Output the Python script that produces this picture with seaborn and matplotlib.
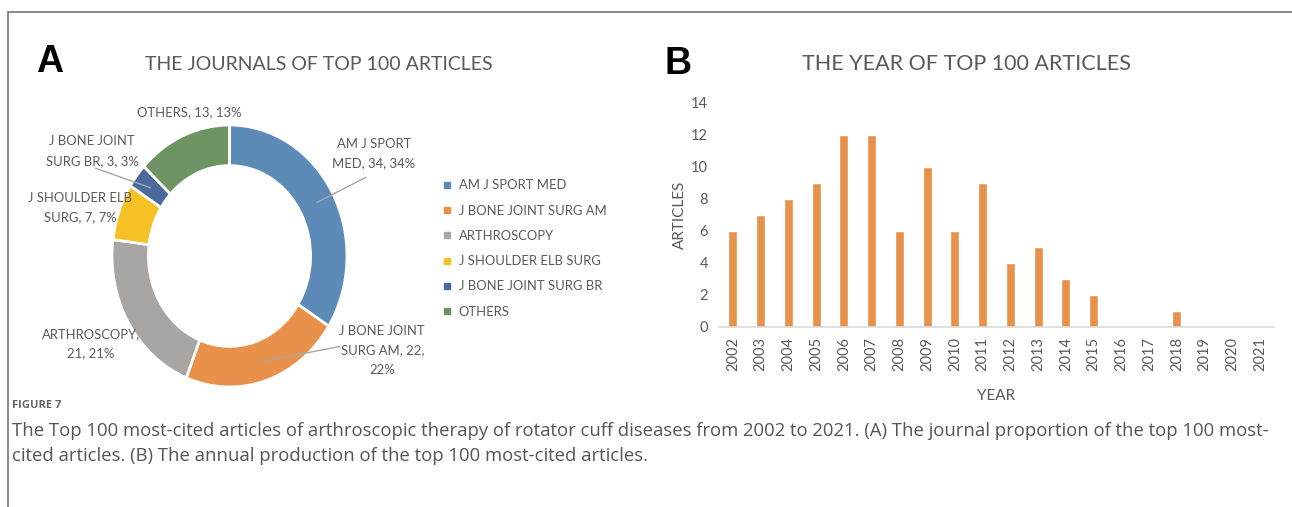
import numpy as np
import pandas as pd
import seaborn as sns
import matplotlib.pyplot as plt
from matplotlib.lines import Line2D

sns.set_theme(style="white")
plt.rcParams['font.family'] = ['Lato', 'DejaVu Sans']

# panel A data
journals = ["AM J SPORT MED", "J BONE JOINT SURG AM", "ARTHROSCOPY",
            "J SHOULDER ELB SURG", "J BONE JOINT SURG BR", "OTHERS"]
journal_counts = [34, 22, 21, 7, 3, 13]
journal_colors = ["#5C8BB8", "#E9914A", "#A9A5A3", "#F6C125", "#4A6A9C", "#6E9463"]

# panel B data
years = [str(y) for y in range(2002, 2022)]
year_counts = [6, 7, 8, 9, 12, 12, 6, 10, 6, 9, 4, 5, 3, 2, 0, 0, 1, 0, 0, 0]
bar_color = "#E8914A"

text_gray = "#595959"

W, H = 1292, 507
fig = plt.figure(figsize=(W / 100, H / 100), dpi=100)

# frame lines
fig.add_artist(Line2D([8 / W, 1], [1 - 12 / H, 1 - 12 / H], color="#777777", lw=1.2, transform=fig.transFigure))
fig.add_artist(Line2D([8 / W, 8 / W], [0, 1 - 12 / H], color="#777777", lw=1.2, transform=fig.transFigure))

# ---------------- panel A: donut ----------------
ax_pie = fig.add_axes([112 / W, 120 / H, 235 / W, 262 / H])
wedges, _ = ax_pie.pie(journal_counts, colors=journal_colors, startangle=90, counterclock=False,
                       radius=1, wedgeprops=dict(width=0.31, edgecolor="white", linewidth=2))
ax_pie.set_aspect("auto")
ax_pie.set_xlim(-1, 1)
ax_pie.set_ylim(-1, 1)
ax_pie.axis("off")

total = sum(journal_counts)
label_text = [
    "AM J SPORT\nMED, {}, {}%",
    "J BONE JOINT\nSURG AM, {},\n{}%",
    "ARTHROSCOPY,\n{}, {}%",
    "J SHOULDER ELB\nSURG, {}, {}%",
    "J BONE JOINT\nSURG BR, {}, {}%",
    "OTHERS, {}, {}%",
]
label_pos = [(1.23, 0.78), (1.30, -0.72), (-1.18, -0.67), (-1.27, 0.37), (-1.17, 0.80), (-0.34, 1.10)]
leader_end = [(1.16, 0.60), (0.94, -0.69), None, None, (-1.14, 0.67), None]

for w, n, txt, pos, end in zip(wedges, journal_counts, label_text, label_pos, leader_end):
    pct = round(n / total * 100)
    ax_pie.text(pos[0], pos[1], txt.format(n, pct), ha="center", va="center", fontsize=9.4,
                color=text_gray, linespacing=1.75, clip_on=False)
    if end is not None:
        mid = np.deg2rad((w.theta1 + w.theta2) / 2)
        ax_pie.plot([0.85 * np.cos(mid), end[0]], [0.85 * np.sin(mid), end[1]],
                    color="#A6A6A6", lw=1, clip_on=False)

handles = [Line2D([], [], marker="s", linestyle="none", markersize=5, color=c) for c in journal_colors]
fig.legend(handles, journals, loc="upper left", bbox_to_anchor=(437 / W, 1 - 174 / H),
           frameon=False, fontsize=9.4, labelcolor=text_gray, handletextpad=0.45,
           labelspacing=1.02, handlelength=0.8, borderaxespad=0)

fig.text(36 / W, 1 - 62 / H, "A", fontsize=27, fontweight="bold", color="black",
         family=["Liberation Sans", "DejaVu Sans"], va="center", ha="left")
fig.text(319 / W, 1 - 64 / H, "THE JOURNALS OF TOP 100 ARTICLES", fontsize=14, color=text_gray,
         ha="center", va="center")

# ---------------- panel B: bars ----------------
ax_bar = fig.add_axes([719 / W, 180 / H, 555 / W, 224 / H])
df_year = pd.DataFrame({"year": years, "articles": year_counts})
sns.barplot(data=df_year, x="year", y="articles", color=bar_color, width=0.33, saturation=1, ax=ax_bar)
ax_bar.set_xlim(-0.5, len(years) - 0.5)
ax_bar.set_ylim(0, 14)
ax_bar.set_yticks(range(0, 15, 2))
for s in ["top", "right", "left"]:
    ax_bar.spines[s].set_visible(False)
ax_bar.spines["bottom"].set_color("#D9D9D9")
ax_bar.spines["bottom"].set_linewidth(1.2)
ax_bar.tick_params(axis="both", length=0, labelsize=10.5, colors=text_gray)
ax_bar.tick_params(axis="x", rotation=90, pad=7)
ax_bar.tick_params(axis="y", pad=8)
ax_bar.set_xlabel("YEAR", fontsize=11, color=text_gray, labelpad=13)
ax_bar.set_ylabel("ARTICLES", fontsize=11, color=text_gray, labelpad=3)

fig.text(665 / W, 1 - 64 / H, "B", fontsize=27, fontweight="bold", color="black",
         family=["Liberation Sans", "DejaVu Sans"], va="center", ha="left")
fig.text(966 / W, 1 - 64 / H, "THE YEAR OF TOP 100 ARTICLES", fontsize=15.5, color=text_gray,
         ha="center", va="center")

# ---------------- caption ----------------
cap_font = ["Open Sans", "DejaVu Sans"]
fig.text(12 / W, 1 - 406 / H, "FIGURE 7", fontsize=8, fontweight="bold", color="#666666",
         family=cap_font, va="center")
fig.text(12 / W, 1 - 431 / H,
         "The Top 100 most-cited articles of arthroscopic therapy of rotator cuff diseases from 2002 to 2021. (A) The journal proportion of the top 100 most-",
         fontsize=13.3, color="#555555", family=cap_font, va="center")
fig.text(12 / W, 1 - 456 / H, "cited articles. (B) The annual production of the top 100 most-cited articles.",
         fontsize=13.3, color="#555555", family=cap_font, va="center")

fig.savefig("out.png", dpi=100, facecolor="white")
